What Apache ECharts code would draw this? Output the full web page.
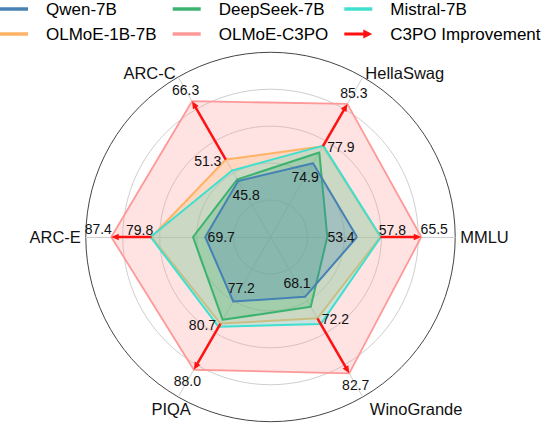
<!DOCTYPE html>
<html>
<head>
<meta charset="utf-8">
<script src="https://cdn.jsdelivr.net/npm/echarts@6/dist/echarts.min.js"></script>
<style>
html,body{margin:0;padding:0;background:#fff;}
#chart{width:546px;height:424px;}
</style>
</head>
<body>
<div id="chart"></div>
<script>
// ---- data ----
const INDICATORS = ['MMLU', 'HellaSwag', 'ARC-C', 'ARC-E', 'PIQA', 'WinoGrande'];
const AXIS_MIN = [37.1, 62.0, 31.4, 57.4, 67.0, 56.7];
const AXIS_MAX = [71.9, 90.0, 72.5, 92.2, 92.3, 87.2];
const QWEN = [53.4, 74.9, 45.8, 69.7, 77.2, 68.1];
const DEEPSEEK = [47.8, 76.8, 46.2, 72.0, 80.1, 70.0];
const MISTRAL = [57.9, 78.0, 48.5, 80.0, 81.2, 73.3];
const OLMOE = [57.8, 77.9, 51.3, 79.8, 80.7, 72.2];
const C3PO = [65.5, 85.3, 66.3, 87.4, 88.0, 82.7];
const MODEL_NAMES = ['Qwen-7B', 'DeepSeek-7B', 'Mistral-7B', 'OLMoE-1B-7B', 'OLMoE-C3PO'];
const IMPROVEMENT_NAME = 'C3PO Improvement';

// ---- styles ----
const FONT = "'Liberation Sans', Arial, Helvetica, sans-serif";
const COLORS = {
  'Qwen-7B': '#4682b4',
  'DeepSeek-7B': '#3cb371',
  'Mistral-7B': '#40e0d0',
  'OLMoE-1B-7B': '#ffb366',
  'OLMoE-C3PO': '#ff9999'
};
const ARROW_COLOR = '#ff1111';
const CENTER = [270.5, 237];
const RADIUS = 184.7;
const NAME_ALIGN = ['left', 'left', 'right', 'right', 'center', 'left'];

const VALUES = {
  'Qwen-7B': QWEN,
  'DeepSeek-7B': DEEPSEEK,
  'Mistral-7B': MISTRAL,
  'OLMoE-1B-7B': OLMOE,
  'OLMoE-C3PO': C3PO
};
// draw order (bottom to top)
const DRAW_ORDER = ['OLMoE-C3PO', 'OLMoE-1B-7B', 'Mistral-7B', 'DeepSeek-7B', 'Qwen-7B'];

const radarData = DRAW_ORDER.map(n => ({
  name: n,
  value: VALUES[n],
  symbol: 'none',
  itemStyle: { color: COLORS[n] },
  lineStyle: { color: COLORS[n], width: n === 'OLMoE-C3PO' ? 1.8 : 2 },
  areaStyle: { color: COLORS[n], opacity: 0.28 }
}));

function renderItem(params, api) {
  const i = params.dataIndex;
  const ang = i * 360 / INDICATORS.length;
  const norm = v => (v - AXIS_MIN[i]) / (AXIS_MAX[i] - AXIS_MIN[i]);
  const c = api.coord([0, ang]);
  const e = api.coord([1, ang]);
  const R = Math.hypot(e[0] - c[0], e[1] - c[1]);
  const ux = (e[0] - c[0]) / R, uy = (e[1] - c[1]) / R;
  const pO = api.coord([norm(OLMOE[i]), ang]);
  const pC = api.coord([norm(C3PO[i]), ang]);
  const pQ = api.coord([norm(QWEN[i]), ang]);
  const horiz = Math.abs(uy) < 0.1;
  const children = [];
  // arrow
  const HEAD = 7.5, HALF = 3.3;
  const bx = pC[0] - ux * HEAD, by = pC[1] - uy * HEAD;
  children.push({
    type: 'line',
    shape: { x1: pO[0], y1: pO[1], x2: bx + ux * 1, y2: by + uy * 1 },
    style: { stroke: ARROW_COLOR, lineWidth: 2.5 }
  });
  children.push({
    type: 'polygon',
    shape: { points: [[pC[0], pC[1]], [bx - uy * HALF, by + ux * HALF], [bx + uy * HALF, by - ux * HALF]] },
    style: { fill: ARROW_COLOR }
  });
  const label = (x, y, s, align, va, size) => ({
    type: 'text', x: x, y: y,
    style: {
      text: s, fill: '#111', fontSize: size || 14, fontFamily: FONT,
      align: align || 'center', verticalAlign: va || 'middle'
    }
  });
  // C3PO value
  children.push(label(pC[0] + ux * 13, pC[1] + uy * 13 + (horiz ? -8 : 0), C3PO[i].toFixed(1)));
  // OLMoE value
  if (horiz) {
    children.push(label(pO[0] + ux * 12, pO[1] - 7, OLMOE[i].toFixed(1)));
  } else {
    children.push(label(pO[0] + Math.sign(ux) * 18, pO[1] + 1, OLMOE[i].toFixed(1)));
  }
  // Qwen value
  children.push(label(pQ[0] - ux * 16, pQ[1] - uy * 16, QWEN[i].toFixed(1)));
  // indicator name
  const gap = uy > 0.5 ? 14 : 5;
  children.push(label(e[0] + ux * gap, e[1] + uy * gap, INDICATORS[i], NAME_ALIGN[i], 'middle', 16.5));
  return { type: 'group', children: children };
}

const legendBase = {
  orient: 'vertical', top: 0, padding: 0, itemGap: 7,
  itemWidth: 28, itemHeight: 3.5, icon: 'rect',
  selectedMode: false,
  itemStyle: { borderWidth: 0 },
  textStyle: { fontSize: 17, fontFamily: FONT, color: '#000', padding: [0, 0, 0, 13], lineHeight: 18 }
};
const ARROW_ICON = 'path://M0,3 L19,3 L19,0 L28,4.5 L19,9 L19,6 L0,6 Z';
const BAR_ICON = 'path://M0,0 L28,0 L28,3.5 L0,3.5 Z';

const chart = echarts.init(document.getElementById('chart'), null, { renderer: 'svg' });
chart.setOption({
  animation: false,
  backgroundColor: '#fff',
  legend: [
    Object.assign({}, legendBase, { left: 0, data: [MODEL_NAMES[0], MODEL_NAMES[3]] }),
    Object.assign({}, legendBase, { left: 172.7, data: [MODEL_NAMES[1], MODEL_NAMES[4]] }),
    Object.assign({}, legendBase, {
      left: 344.3, itemHeight: 9,
      data: [{ name: MODEL_NAMES[2], icon: BAR_ICON }, { name: IMPROVEMENT_NAME, icon: ARROW_ICON }]
    })
  ],
  radar: {
    center: CENTER,
    radius: RADIUS,
    startAngle: 0,
    shape: 'circle',
    splitNumber: 5,
    indicator: INDICATORS.map((n, i) => ({ name: n, min: AXIS_MIN[i], max: AXIS_MAX[i] })),
    axisName: { show: false },
    splitArea: { show: false },
    splitLine: { lineStyle: { color: ['#cfcfcf', '#cfcfcf', '#cfcfcf', '#cfcfcf', '#cfcfcf', '#454545'], width: 1 } },
    axisLine: { lineStyle: { color: '#cfcfcf', width: 1 } },
    axisTick: { show: false },
    axisLabel: { show: false }
  },
  polar: { center: CENTER, radius: RADIUS },
  angleAxis: { type: 'value', min: 0, max: 360, startAngle: 0, clockwise: false, show: false },
  radiusAxis: { type: 'value', min: 0, max: 1, show: false },
  series: [
    {
      type: 'radar',
      silent: true,
      symbol: 'none',
      data: radarData
    },
    {
      type: 'custom',
      name: IMPROVEMENT_NAME,
      coordinateSystem: 'polar',
      silent: true,
      itemStyle: { color: ARROW_COLOR },
      renderItem: renderItem,
      data: INDICATORS.map((n, i) => [i])
    }
  ]
});
</script>
</body>
</html>
